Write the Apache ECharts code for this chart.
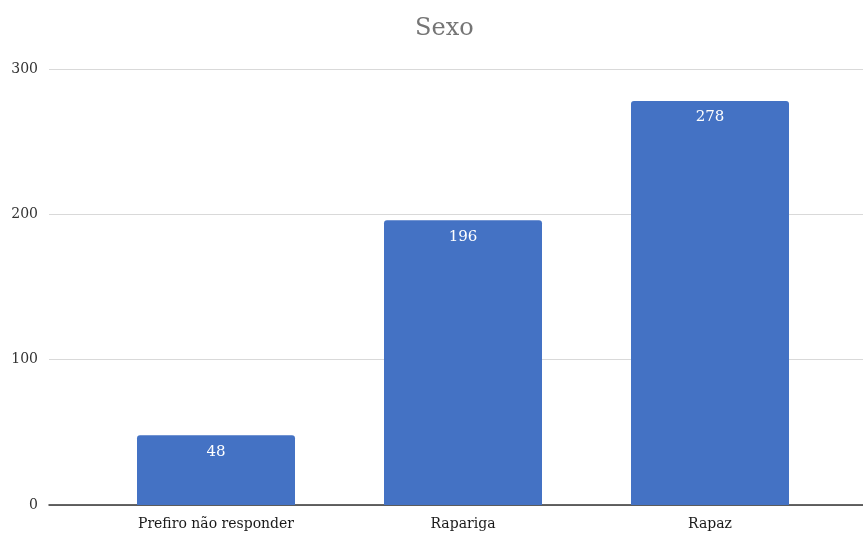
<!DOCTYPE html>
<html lang="pt">
<head>
    <meta charset="UTF-8">
    <title>Sexo</title>
    <script src="https://cdn.jsdelivr.net/npm/echarts@6/dist/echarts.min.js"></script>
    <style type="text/css">
        html, body { margin: 0; height: 100%; background: #ffffff; }
        #main { width: 863px; height: 533px; }
    </style>
</head>
<body>
    <div id="main"></div>
    <script type="text/javascript">
        // dados do gráfico
        var categorias = ['Prefiro não responder', 'Rapariga', 'Rapaz'];
        var valores = [48, 196, 278];
        var yTicks = [0, 100, 200, 300];

        var serif = '"DejaVu Serif", "Liberation Serif", serif';
        var myChart = echarts.init(document.getElementById('main'));

        var option = {
            title: {
                text: 'Sexo',
                left: 410,
                top: 12,
                textStyle: { fontFamily: serif, fontSize: 24, fontWeight: 'normal', color: '#757575' }
            },
            grid: [
                // grelha completa: linhas de referência e rótulos do eixo y
                { left: 49, right: 0, top: 69, bottom: 28 },
                // grelha das barras
                { left: 92.5, right: 29.5, top: 69, bottom: 28 }
            ],
            xAxis: [
                {
                    gridIndex: 0, type: 'value', min: 0, max: 1,
                    axisLine: { show: true, onZero: false, lineStyle: { color: '#333333', width: 1.5 } },
                    axisTick: { show: false }, axisLabel: { show: false }, splitLine: { show: false }
                },
                {
                    gridIndex: 1, type: 'category', data: categorias,
                    axisLine: { show: false }, axisTick: { show: false },
                    axisLabel: { fontFamily: serif, fontSize: 14, color: '#1a1a1a', margin: 12 }
                }
            ],
            yAxis: [
                {
                    gridIndex: 0, type: 'value', min: yTicks[0], max: yTicks[yTicks.length - 1], interval: 100,
                    axisLine: { show: false }, axisTick: { show: false },
                    axisLabel: { fontFamily: serif, fontSize: 14, color: '#333333', margin: 11 },
                    splitLine: { lineStyle: { color: '#d9d9d9', width: 1 } }
                },
                {
                    gridIndex: 1, type: 'value', min: yTicks[0], max: yTicks[yTicks.length - 1],
                    show: false, splitLine: { show: false }
                }
            ],
            series: [{
                type: 'bar',
                xAxisIndex: 1,
                yAxisIndex: 1,
                data: valores,
                barWidth: 158,
                itemStyle: { color: '#4472c4', borderRadius: [3, 3, 0, 0] },
                label: {
                    show: true,
                    position: 'insideTop',
                    distance: 9,
                    fontFamily: serif,
                    fontSize: 15,
                    color: '#ffffff'
                }
            }],
            animation: false
        };
        myChart.setOption(option);
    </script>
</body>
</html>
